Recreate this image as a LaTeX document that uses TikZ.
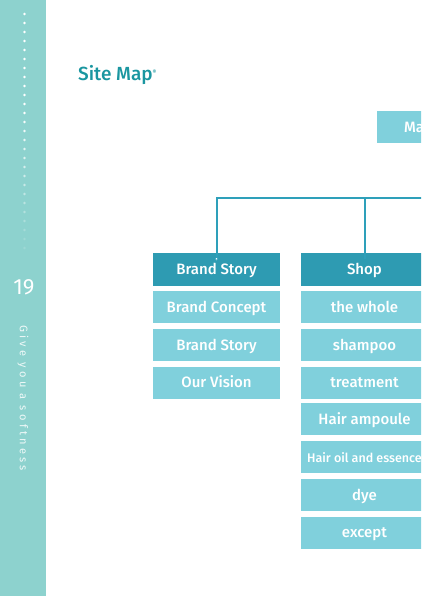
\documentclass[tikz,border=0pt]{standalone}
\usepackage{fontspec}
\setmainfont{Fira Sans}
\newfontfamily\fmed{Fira Sans Medium}
\definecolor{sidebar}{HTML}{8DD2CE}
\definecolor{titlec}{HTML}{1A96A0}
\definecolor{headc}{HTML}{2E9BB2}
\definecolor{itemc}{HTML}{80D0DC}
\definecolor{linec}{HTML}{2EA0BA}
\begin{document}
\begin{tikzpicture}[x=1pt,y=-1pt,
  boxbase/.style={text=white, minimum width=127pt, inner sep=0pt, text height=10.5pt, text depth=0.5pt, font=\fmed\fontsize{15}{17}\selectfont},
  headbox/.style={boxbase, fill=headc, minimum height=33pt},
  itembox/.style={boxbase, fill=itemc, minimum height=32pt},
  conn/.style={draw=linec, line width=2pt}]
\useasboundingbox (0,0) rectangle (421,596);
\clip (0,0) rectangle (421,596);
% sidebar
\fill[sidebar] (0,0) rectangle (46,596);
\foreach \i in {0,...,26}{
  \pgfmathsetmacro{\op}{\i<12 ? 1 : max(0.15,1-(\i-11)*0.06)}
  \fill[white, opacity=\op] (24.5,{14+9*\i}) circle (1.4pt);
}
\node[text=white, font=\fontsize{22}{24}\selectfont] (pg) at (24,287) {19};
\node[text=white, opacity=0.85, rotate=-90, font=\fontsize{11}{13}\selectfont\addfontfeature{LetterSpace=30}] (slogan) at (23,398) {Give you a softness};
% title
\node[anchor=west, text=titlec, inner sep=0pt, font=\fmed\fontsize{19}{21}\selectfont] (title) at (78,75) {Site Map\textsuperscript{\fontsize{6}{6}\selectfont ®}};
% main box
\fill[itemc] (377,111) rectangle (430,143);
\node[anchor=west, text=white, inner sep=0pt, font=\fmed\fontsize{15}{17}\selectfont] (main) at (404,127) {Ma};
% headers
\node[headbox] (bs) at (216.5,269.5) {Brand Story};
\node[headbox] (shop) at (364.5,269.5) {Shop};
% brand story items
\node[itembox] (b1) at (216.5,307) {Brand Concept};
\node[itembox] (b2) at (216.5,345) {Brand Story};
\node[itembox] (b3) at (216.5,382.5) {Our Vision};
% shop items
\node[itembox] (s1) at (364.5,307) {the whole};
\node[itembox] (s2) at (364.5,345) {shampoo};
\node[itembox] (s3) at (364.5,382.5) {treatment};
\node[itembox] (s4) at (364.5,419) {Hair ampoule};
\node[itembox, font=\fmed\fontsize{12.5}{14}\selectfont] (s5) at (364.5,457) {Hair oil and essence};
\node[itembox] (s6) at (364.5,495) {dye};
\node[itembox] (s7) at (364.5,532.5) {except};
% connectors
\coordinate (bsend) at ([yshift=-6pt]bs.north);
\coordinate (shopend) at ([yshift=-6pt]shop.north);
\coordinate (busR) at (430,198);
\draw[conn] (busR) -| (bsend);
\draw[conn] (shopend) -- (shopend |- busR);
\draw[linec, fill=white, line width=0.6pt] (bsend) circle (1.5pt);
\end{tikzpicture}
\end{document}
